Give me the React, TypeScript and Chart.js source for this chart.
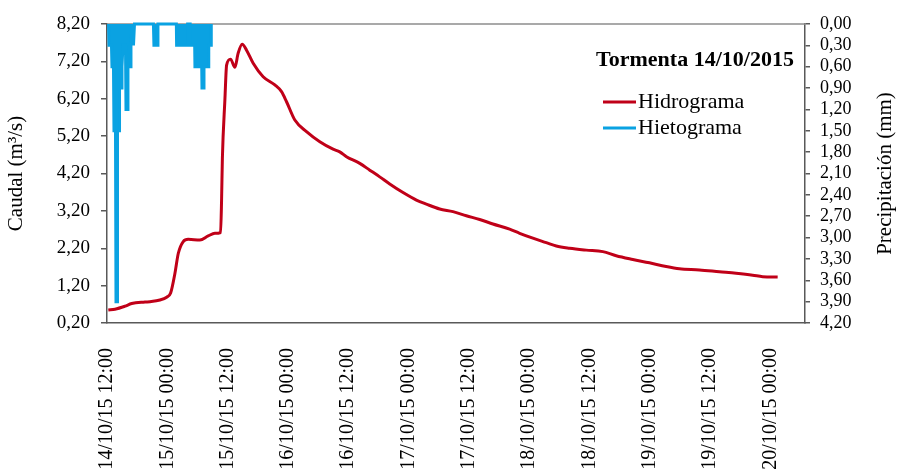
import React, { useEffect, useRef } from 'react';
import { Chart, registerables } from 'chart.js';

Chart.register(...registerables);

// ---- Data (hours since 14/10/15 12:00) ----
const xTickHours = [0, 12, 24, 36, 48, 60, 72, 84, 96, 108, 120, 132];
const xTickLabels = [
  '14/10/15 12:00', '15/10/15 00:00', '15/10/15 12:00', '16/10/15 00:00',
  '16/10/15 12:00', '17/10/15 00:00', '17/10/15 12:00', '18/10/15 00:00',
  '18/10/15 12:00', '19/10/15 00:00', '19/10/15 12:00', '20/10/15 00:00',
];
const leftTicks = [0.2, 1.2, 2.2, 3.2, 4.2, 5.2, 6.2, 7.2, 8.2];
const rightTicks = [0, 0.3, 0.6, 0.9, 1.2, 1.5, 1.8, 2.1, 2.4, 2.7, 3.0, 3.3, 3.6, 3.9, 4.2];

const hidroHours = [
  0.26, 1.59, 3.58, 4.91, 7.55, 8.55, 10.54, 11.87, 12.66, 13.52, 14.18, 15.17, 16.16,
  18.49, 20.14, 21.47, 22.6, 22.8, 22.96, 23.46, 23.8, 24.59, 25.45, 26.1, 26.9, 27.77,
  29.09, 31.07, 33.4, 34.73, 35.73, 37.38, 39.7, 42.35, 44.99, 46.32, 47.65, 50.3, 52.29,
  54.27, 56.26, 58.91, 61.57, 63.56, 66.2, 68.85, 71.51, 74.16, 76.8, 80.12, 82.11, 84.75,
  87.42, 89.41, 92.05, 95.37, 98.67, 101.33, 104.63, 107.95, 111.27, 113.92, 117.89,
  121.87, 125.19, 128.49, 130.47, 133.46,
];
const hidroFlow = [
  0.55, 0.57, 0.65, 0.72, 0.76, 0.77, 0.815, 0.89, 1.0, 1.53, 2.06, 2.38, 2.44,
  2.42, 2.53, 2.6, 2.62, 3.49, 4.6, 6.17, 7.1, 7.26, 7.04, 7.42, 7.66, 7.5,
  7.15, 6.79, 6.57, 6.39, 6.12, 5.63, 5.32, 5.05, 4.85, 4.78, 4.65, 4.47, 4.29,
  4.11, 3.92, 3.69, 3.49, 3.38, 3.25, 3.18, 3.07, 2.97, 2.85, 2.71, 2.6, 2.47,
  2.35, 2.26, 2.2, 2.15, 2.11, 2.0, 1.9, 1.81, 1.71, 1.65, 1.62,
  1.57, 1.53, 1.48, 1.44, 1.43,
];

const hietoHours = [
  0.3, 0.4, 0.89, 0.99, 1.29, 1.39, 1.69, 1.79, 1.99, 2.09, 2.39, 2.49, 2.68, 2.88, 2.98,
  3.18, 3.68, 3.78, 4.08, 4.17, 4.47, 4.67, 4.77, 4.97, 5.27, 5.47, 9.24, 9.34, 10.04,
  10.14, 13.8, 13.85, 16.0, 16.05, 16.55, 16.6, 17.45, 17.5, 18.85, 18.9, 19.25, 19.3,
  20.2, 20.25, 20.7, 20.75,
];
const hietoMm = [
  0, 0.3, 0.3, 0.6, 0.6, 1.5, 1.5, 3.9, 3.9, 1.5, 1.5, 0.6, 0.9, 0.9, 0.6,
  0.3, 0.3, 1.2, 1.2, 0.6, 0.3, 0.6, 0.3, 0, 0.3, 0, 0, 0.3, 0.3,
  0, 0, 0.3, 0.3, 0, 0, 0.3, 0.3, 0.6, 0.6, 0.9, 0.9, 0.6,
  0.6, 0.3, 0.3, 0,
];

const legendTitle = 'Tormenta 14/10/2015';
const leftTitle = 'Caudal (m³/s)';
const rightTitle = 'Precipitación (mm)';

const SERIF = '"Liberation Serif", "Times New Roman", serif';
const RED = '#C00018';
const BLUE = '#0AA2E2';
const AXIS = '#595959';

const fmt = (v: number) => Number(v).toFixed(2).replace('.', ',');

const overlay = {
  id: 'overlay',
  beforeDatasetsDraw(chart: any) {
    const { ctx, chartArea: a } = chart;
    ctx.save();
    ctx.strokeStyle = '#8c8c8c';
    ctx.lineWidth = 1.5;
    ctx.beginPath();
    ctx.moveTo(a.left, a.top);
    ctx.lineTo(a.right, a.top);
    ctx.stroke();
    ctx.restore();
  },
  afterDraw(chart: any) {
    const { ctx, chartArea: a } = chart;
    ctx.save();
    // right axis title (reads bottom-to-top)
    ctx.translate(885, (a.top + a.bottom) / 2);
    ctx.rotate(-Math.PI / 2);
    ctx.font = `21px ${SERIF}`;
    ctx.fillStyle = '#000';
    ctx.textAlign = 'center';
    ctx.textBaseline = 'middle';
    ctx.fillText(rightTitle, 0, 0);
    ctx.restore();

    // legend
    ctx.save();
    ctx.fillStyle = '#000';
    ctx.textBaseline = 'middle';
    ctx.textAlign = 'center';
    ctx.font = `bold 22px ${SERIF}`;
    ctx.fillText(legendTitle, 695, 60);
    ctx.textAlign = 'left';
    ctx.font = `22px ${SERIF}`;
    const items = chart.data.datasets;
    const ys = [102, 128];
    items.forEach((ds: any, i: number) => {
      ctx.strokeStyle = ds.borderColor;
      ctx.lineWidth = 3;
      ctx.beginPath();
      ctx.moveTo(603, ys[i]);
      ctx.lineTo(636, ys[i]);
      ctx.stroke();
      ctx.fillText(ds.label, 638, ys[i]);
    });
    ctx.restore();
  },
};

export default function App() {
  const ref = useRef<HTMLCanvasElement>(null);
  useEffect(() => {
    const chart = new Chart(ref.current as HTMLCanvasElement, {
      type: 'line',
      data: {
        datasets: [
          {
            label: 'Hidrograma',
            data: hidroHours.map((h, i) => ({ x: h, y: hidroFlow[i] })),
            borderColor: RED,
            backgroundColor: RED,
            borderWidth: 3,
            pointRadius: 0,
            cubicInterpolationMode: 'monotone',
            yAxisID: 'y',
          },
          {
            label: 'Hietograma',
            data: hietoHours.map((h, i) => ({ x: h, y: hietoMm[i] })),
            borderColor: BLUE,
            backgroundColor: BLUE,
            fill: 'origin',
            borderWidth: 3,
            pointRadius: 0,
            tension: 0,
            clip: false,
            yAxisID: 'y1',
          },
        ],
      },
      options: {
        animation: false,
        responsive: true,
        maintainAspectRatio: false,
        layout: { padding: { top: 24, left: 0, right: 0, bottom: 0 } },
        plugins: { legend: { display: false }, tooltip: { enabled: false } },
        scales: {
          x: {
            type: 'linear',
            position: 'bottom',
            min: 0,
            max: 138.9,
            afterBuildTicks: (s: any) => { s.ticks = xTickHours.map((v) => ({ value: v })); },
            afterFit: (s: any) => { s.height = 147; },
            ticks: {
              autoSkip: false,
              minRotation: 90,
              maxRotation: 90,
              padding: 17,
              color: '#000',
              font: { family: SERIF, size: 20 },
              callback: (v: any) => {
                const i = xTickHours.indexOf(Number(v));
                return i >= 0 ? xTickLabels[i] : '';
              },
            },
            grid: { display: false },
            border: { display: true, color: AXIS, width: 1.5 },
          },
          y: {
            type: 'linear',
            position: 'left',
            min: 0.2,
            max: 8.2,
            afterBuildTicks: (s: any) => { s.ticks = leftTicks.map((v) => ({ value: v })); },
            afterFit: (s: any) => { s.width = 107; },
            ticks: {
              autoSkip: false,
              padding: 11,
              color: '#000',
              font: { family: SERIF, size: 19 },
              callback: (v: any) => fmt(v),
            },
            grid: { drawOnChartArea: false, drawTicks: true, tickLength: 6, color: AXIS, lineWidth: 1.5 },
            border: { display: true, color: AXIS, width: 1.5 },
            title: {
              display: true,
              text: leftTitle,
              color: '#000',
              font: { family: SERIF, size: 21 },
              padding: { top: 4, bottom: 4 },
            },
          },
          y1: {
            type: 'linear',
            position: 'right',
            min: 0,
            max: 4.2,
            reverse: true,
            afterBuildTicks: (s: any) => { s.ticks = rightTicks.map((v) => ({ value: v })); },
            afterFit: (s: any) => { s.width = 94; },
            ticks: {
              autoSkip: false,
              padding: 10,
              color: '#000',
              font: { family: SERIF, size: 18 },
              callback: (v: any) => fmt(v),
            },
            grid: { drawOnChartArea: false, drawTicks: true, tickLength: 5, color: AXIS, lineWidth: 1.5 },
            border: { display: true, color: AXIS, width: 1.5 },
          },
        },
      },
      plugins: [overlay],
    } as any);
    return () => chart.destroy();
  }, []);
  return (
    <div style={{ position: 'absolute', left: 0, top: 0, width: 899, height: 470 }}>
      <canvas ref={ref} />
    </div>
  );
}
